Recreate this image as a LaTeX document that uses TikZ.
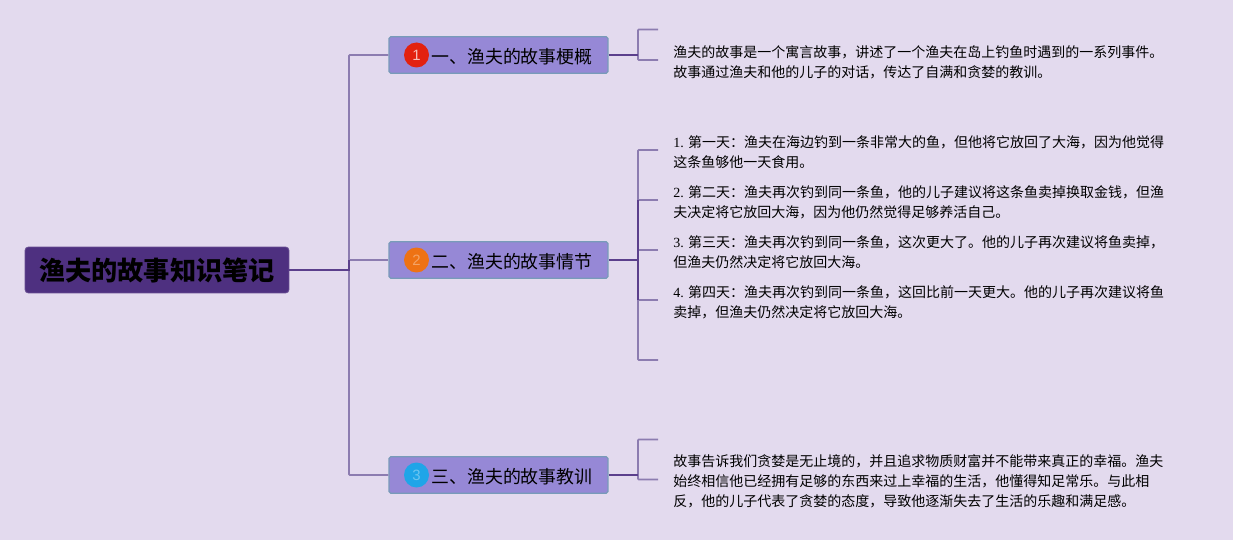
\documentclass[tikz,border=0pt]{standalone}
\usepackage{fontspec}
\usepackage{xcolor}
\setmainfont{Noto Sans CJK SC}
\newfontfamily\numfont{Liberation Serif}
\newfontfamily\badgefont{Liberation Sans}
\usetikzlibrary{positioning}
\definecolor{fishbg}{RGB}{227, 218, 238}
\definecolor{fishroot}{RGB}{78, 48, 128}
\definecolor{fishbranch}{RGB}{150, 136, 214}
\definecolor{fishborder}{RGB}{120, 155, 185}
\definecolor{fishline}{RGB}{140, 124, 176}
\definecolor{fishdark}{RGB}{91, 63, 140}
\definecolor{fishred}{RGB}{227, 33, 15}
\definecolor{fishorange}{RGB}{238, 114, 20}
\definecolor{fishblue}{RGB}{31, 165, 232}

\begin{document}
\begin{tikzpicture}[
    x=0.02cm, y=-0.02cm,
    root/.style={draw=fishroot!85!white, fill=fishroot, rounded corners=2pt, line width=0.5pt, minimum width=5.28cm, minimum height=0.92cm, inner sep=0pt, font=\fontsize{14.9}{16}\selectfont\bfseries},
    branch/.style={draw=fishborder, fill=fishbranch, rounded corners=1pt, line width=0.7pt, minimum width=4.38cm, minimum height=0.73cm, inner sep=0pt},
    badge/.style={circle, minimum size=0.5cm, inner sep=0pt, text=white!35!#1, font=\fontsize{8.5}{10}\selectfont\badgefont, fill=#1},
    caption/.style={anchor=west, inner sep=0pt, font=\fontsize{10.2}{12}\selectfont},
    para/.style={anchor=west, inner sep=0pt, align=left, font=\fontsize{7.97}{11.4}\selectfont},
    link/.style={draw=fishline, line width=1pt, rounded corners=0.5pt},
    trunk/.style={draw=fishdark, line width=1.1pt},
]
    \fill[fishbg] (0,0) rectangle (1233,540);

    % Root
    \node[root] (story) at (157,270) {\raisebox{-1pt}{渔夫的故事知识笔记}};

    % Branch nodes
    \node[branch] (plot) at (498.5,55) {};
    \node[branch] (days) at (498.5,260) {};
    \node[branch] (moral) at (498.5,475) {};
    \node[badge=fishred, text=white!70!fishred] (plotIcon) at (416.5,55) {1};
    \node[badge=fishorange] (daysIcon) at (416.5,260) {2};
    \node[badge=fishblue] (moralIcon) at (416.5,475) {3};
    \node[caption] (plotText) at (431,56.5) {一、渔夫的故事梗概};
    \node[caption] (daysText) at (431,261.5) {二、渔夫的故事情节};
    \node[caption] (moralText) at (431,476.5) {三、渔夫的故事教训};

    % Leaf texts
    \node[para] (plotLeaf) at (673,62) {渔夫的故事是一个寓言故事，讲述了一个渔夫在岛上钓鱼时遇到的一系列事件。\\故事通过渔夫和他的儿子的对话，传达了自满和贪婪的教训。};
    \node[para] (dayOne) at (673,152) {{\numfont 1.} 第一天：渔夫在海边钓到一条非常大的鱼，但他将它放回了大海，因为他觉得\\这条鱼够他一天食用。};
    \node[para] (dayTwo) at (673,202) {{\numfont 2.} 第二天：渔夫再次钓到同一条鱼，他的儿子建议将这条鱼卖掉换取金钱，但渔\\夫决定将它放回大海，因为他仍然觉得足够养活自己。};
    \node[para] (dayThree) at (673,252) {{\numfont 3.} 第三天：渔夫再次钓到同一条鱼，这次更大了。他的儿子再次建议将鱼卖掉，\\但渔夫仍然决定将它放回大海。};
    \node[para] (dayFour) at (673,302) {{\numfont 4.} 第四天：渔夫再次钓到同一条鱼，这回比前一天更大。他的儿子再次建议将鱼\\卖掉，但渔夫仍然决定将它放回大海。};
    \node[para] (moralLeaf) at (673,481.5) {故事告诉我们贪婪是无止境的，并且追求物质财富并不能带来真正的幸福。渔夫\\始终相信他已经拥有足够的东西来过上幸福的生活，他懂得知足常乐。与此相\\反，他的儿子代表了贪婪的态度，导致他逐渐失去了生活的乐趣和满足感。};

    % Free ends
    \coordinate (hub) at (349,270);
    \coordinate (plotA) at (658,29.5);
    \coordinate (plotB) at (658,60);
    \coordinate (daysA) at (658,150);
    \coordinate (daysB) at (658,200);
    \coordinate (daysC) at (658,250);
    \coordinate (daysD) at (658,300);
    \coordinate (daysE) at (658,360);
    \coordinate (moralA) at (658,439.5);
    \coordinate (moralB) at (658,479.5);

    % Root connectors
    \draw[link] (plot.west) -- (hub |- plot.west) -- (hub |- moral.west) -- (moral.west);
    \draw[link] (hub |- days.west) -- (days.west);
    \draw[trunk] (story.east) -- (hub) -- ++(0,-10);

    % Leaf connectors
    \draw[link] (plotA) -- ++(-20,0) |- (plotB);
    \draw[link] (daysA) -- ++(-20,0) |- (daysE);
    \draw[link] (daysB) -- ++(-20,0);
    \draw[link] (daysC) -- ++(-20,0);
    \draw[link] (daysD) -- ++(-20,0);
    \draw[link] (moralA) -- ++(-20,0) |- (moralB);
    \draw[trunk] (plot.east) -- (638,55);
    \draw[trunk] (days.east) -- (638,260);
    \draw[trunk] (638,200) -- (638,300);
    \draw[trunk] (moral.east) -- (638,475);
\end{tikzpicture}
\end{document}
